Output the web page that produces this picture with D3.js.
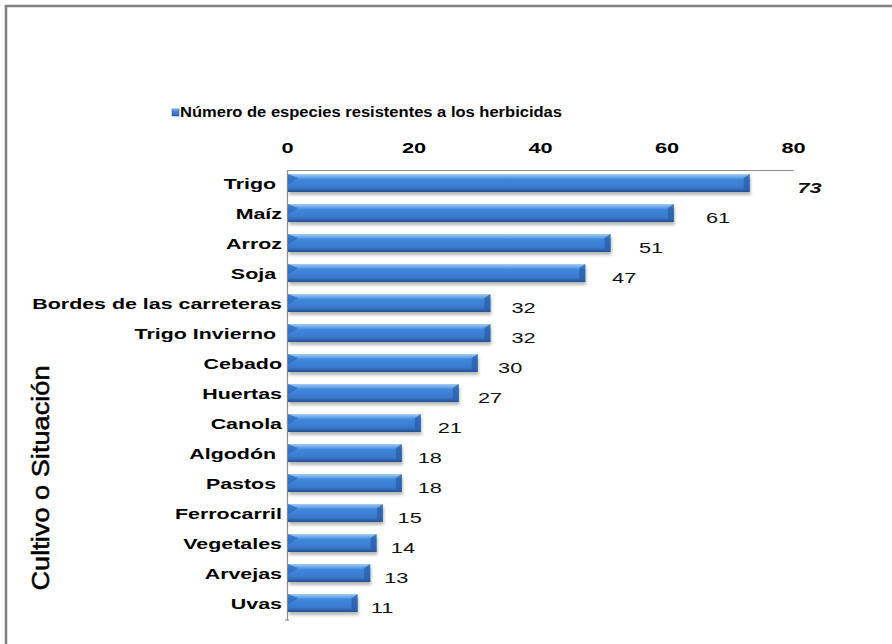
<!DOCTYPE html>
<html>
<head>
<meta charset="utf-8">
<script src="https://cdn.jsdelivr.net/npm/d3@7"></script>
<style>
  html, body { margin: 0; padding: 0; background: #fff; }
  svg { display: block; }
  text { font-family: "Liberation Sans", Arial, sans-serif; }
</style>
</head>
<body>
<svg id="chart" width="892" height="644"></svg>
<script>
// Crops / situations with herbicide-resistant weed species
const categories = [
  "Trigo ", "Maíz", "Arroz", "Soja ", "Bordes de las carreteras",
  "Trigo Invierno ", "Cebado", "Huertas", "Canola", "Algodón ",
  "Pastos ", "Ferrocarril", "Vegetales", "Arvejas", "Uvas"
];
const values = [73, 61, 51, 47, 32, 32, 30, 27, 21, 18, 18, 15, 14, 13, 11];
const xTicks = [0, 20, 40, 60, 80];
const seriesName = "Número de especies resistentes a los herbicidas";
const axisTitle = "Cultivo o Situación";

const svg = d3.select("#chart");

// Widen text horizontally by a factor, keeping its anchor
function widen(sel, k) {
  sel.each(function () {
    const len = this.getComputedTextLength();
    if (len > 0) {
      d3.select(this).attr("textLength", len * k).attr("lengthAdjust", "spacingAndGlyphs");
    }
  });
}

// Outer frame
svg.append("path")
  .attr("d", "M6,644 V6 H892")
  .attr("fill", "none")
  .attr("stroke", "#808080")
  .attr("stroke-width", 2.5);

const x = d3.scaleLinear().domain([0, 80]).range([287, 793]);
const y = d3.scaleBand().domain(categories).range([168, 618]).paddingInner(0.4).paddingOuter(0.2);

// Bevelled bar fill
const defs = svg.append("defs");
const grad = defs.append("linearGradient").attr("id", "barFill")
  .attr("x1", 0).attr("y1", 0).attr("x2", 0).attr("y2", 1);
[["0%", "#a4ccf4"], ["16%", "#6eaaea"], ["30%", "#4088dc"], ["75%", "#3a78cc"], ["100%", "#24508e"]]
  .forEach(([o, c]) => grad.append("stop").attr("offset", o).attr("stop-color", c));
const shadow = defs.append("filter").attr("id", "shadow")
  .attr("x", "-5%").attr("y", "-20%").attr("width", "115%").attr("height", "170%");
shadow.append("feDropShadow").attr("dx", 1).attr("dy", 3).attr("stdDeviation", 1.8)
  .attr("flood-color", "#000").attr("flood-opacity", 0.28);

// Axis lines
const xAxis = d3.axisTop(x).tickValues(xTicks).tickSize(0).tickPadding(17).tickFormat(d3.format("d"));
const gx = svg.append("g").attr("transform", "translate(0,170)").call(xAxis);
gx.select(".domain").attr("stroke", "#8c8c8c").attr("stroke-width", 1.2);
gx.selectAll("text")
  .attr("font-size", 15).attr("font-weight", "bold").attr("fill", "#000")
  .attr("font-family", "'Liberation Sans', Arial, sans-serif");
widen(gx.selectAll("text"), 1.45);

const yAxis = d3.axisLeft(d3.scaleLinear().range([170, 620])).ticks(0).tickSize(0);
const gy = svg.append("g").attr("transform", "translate(287,0)").call(yAxis);
gy.select(".domain").attr("stroke", "#8c8c8c").attr("stroke-width", 1.2);
svg.append("line").attr("x1", 285).attr("x2", 289).attr("y1", 620).attr("y2", 620)
  .attr("stroke", "#8c8c8c");

// Category labels
const catLabels = svg.append("g").selectAll("text").data(categories).join("text")
  .attr("x", 282)
  .attr("y", d => y(d) + y.bandwidth() / 2)
  .attr("dy", "0.36em")
  .attr("text-anchor", "end")
  .style("white-space", "pre")
  .attr("font-size", 15.5)
  .attr("font-weight", "bold")
  .text(d => d);
widen(catLabels, 1.38);

// Bars
const bars = svg.append("g");
bars.selectAll("rect").data(values).join("rect")
  .attr("x", x(0) + 1)
  .attr("y", (d, i) => y(categories[i]))
  .attr("width", d => x(d) - x(0))
  .attr("height", y.bandwidth())
  .attr("fill", "url(#barFill)")
  .attr("filter", "url(#shadow)");
// left bevel facet
bars.selectAll("path.bevel").data(values).join("path")
  .attr("class", "bevel")
  .attr("d", (d, i) => {
    const y0 = y(categories[i]), h = y.bandwidth(), x0 = x(0) + 1;
    return `M${x0},${y0} L${x0 + 10},${y0 + 4} L${x0},${y0 + h * 0.6} Z`;
  })
  .attr("fill", "#2f6cc0").attr("opacity", 0.8);
// right bevel facet
bars.selectAll("path.rbevel").data(values).join("path")
  .attr("class", "rbevel")
  .attr("d", (d, i) => {
    const y0 = y(categories[i]), h = y.bandwidth(), x1 = x(d) + 1;
    return `M${x1},${y0} L${x1 - 6},${y0 + 4} L${x1 - 6},${y0 + h - 3} L${x1},${y0 + h} Z`;
  })
  .attr("fill", "#2a5fa8").attr("opacity", 0.75);

// Value labels
const valLabels = svg.append("g").selectAll("text").data(values).join("text")
  .attr("x", (d, i) => x(d * 1.06) + (i === 0 ? 21 : 10))
  .attr("y", (d, i) => y(categories[i]) + y.bandwidth() / 2 + 5)
  .attr("dy", "0.36em")
  .attr("font-size", 15)
  .attr("font-weight", (d, i) => i === 0 ? "bold" : "normal")
  .attr("font-style", (d, i) => i === 0 ? "italic" : "normal")
  .attr("fill", "#111")
  .text(d => d);
widen(valLabels, 1.45);

// Legend
svg.append("rect").attr("x", 172).attr("y", 109).attr("width", 7).attr("height", 7)
  .attr("fill", "url(#barFill)").attr("stroke", "#2a5fa8").attr("stroke-width", 0.6);
const legendText = svg.append("text").attr("x", 180).attr("y", 117)
  .attr("font-size", 14).attr("font-weight", "bold")
  .text(seriesName);
widen(legendText, 1.18);

// Vertical axis title
svg.append("text")
  .attr("transform", "translate(49,478) rotate(-90)")
  .attr("text-anchor", "middle")
  .attr("font-size", 23)
  .attr("font-family", "'Liberation Sans Narrow', 'DejaVu Sans Condensed', sans-serif")
  .attr("stroke", "#000")
  .attr("stroke-width", 0.5)
  .attr("textLength", 225)
  .attr("lengthAdjust", "spacingAndGlyphs")
  .text(axisTitle);
</script>
</body>
</html>
